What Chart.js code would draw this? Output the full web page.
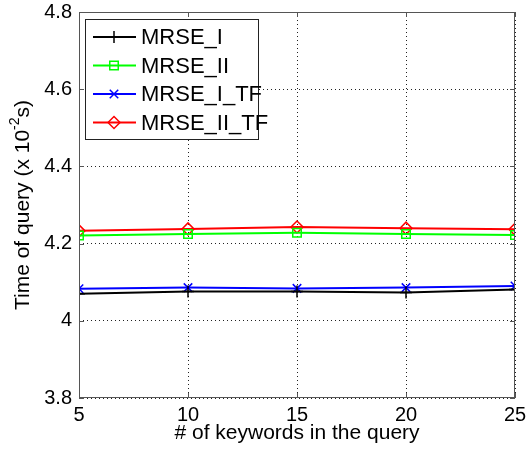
<!DOCTYPE html>
<html>
<head>
<meta charset="utf-8">
<script src="https://cdn.jsdelivr.net/npm/chart.js@4"></script>
<style>
  html, body { margin: 0; padding: 0; background: #fff; }
  #wrap { position: relative; width: 527px; height: 456px; }
</style>
</head>
<body>
<div id="wrap"><canvas id="chart" width="527" height="456"></canvas></div>
<script>
const keywords = [5, 10, 15, 20, 25]
const mrseI = [4.070, 4.076, 4.076, 4.073, 4.081]
const mrseII = [4.221, 4.225, 4.228, 4.225, 4.222]
const mrseITF = [4.083, 4.086, 4.084, 4.086, 4.090]
const mrseIITF = [4.233, 4.238, 4.243, 4.240, 4.237]
const yTicks = [3.8, 4, 4.2, 4.4, 4.6, 4.8]
const xTicks = [5, 10, 15, 20, 25]

const FONT = "Arial, 'Liberation Sans', sans-serif"

function series(label, values, color, style) {
  return {
    label,
    data: keywords.map((k, i) => ({ x: k, y: values[i] })),
    borderColor: color,
    backgroundColor: "transparent",
    borderWidth: 2,
    pointStyle: style,
    pointRadius: 6,
    pointBorderWidth: 1.5,
    pointBorderColor: color,
    pointBackgroundColor: "transparent",
    tension: 0,
  }
}

function noPad(s) {
  s.paddingTop = 0
  s.paddingBottom = 0
  s.paddingLeft = 0
  s.paddingRight = 0
}

// box, inward ticks, legend and y title (with superscript)
const matlabLook = {
  id: "matlabLook",
  afterDraw(chart) {
    const { ctx, chartArea: a, scales } = chart
    ctx.save()
    ctx.strokeStyle = "#555"
    ctx.lineWidth = 1
    ctx.strokeRect(a.left + 0.5, a.top + 0.5, a.right - a.left - 1, a.bottom - a.top - 1)
    ctx.beginPath()
    for (const v of xTicks) {
      const x = Math.round(scales.x.getPixelForValue(v)) + 0.5
      ctx.moveTo(x, a.bottom); ctx.lineTo(x, a.bottom - 5)
      ctx.moveTo(x, a.top); ctx.lineTo(x, a.top + 5)
    }
    for (const v of yTicks) {
      const y = Math.round(scales.y.getPixelForValue(v)) + 0.5
      ctx.moveTo(a.left, y); ctx.lineTo(a.left + 5, y)
      ctx.moveTo(a.right, y); ctx.lineTo(a.right - 5, y)
    }
    ctx.stroke()

    // legend
    const lx = a.left + 6, ly = a.top + 7, lw = 173, lh = 120
    ctx.fillStyle = "#fff"
    ctx.fillRect(lx, ly, lw, lh)
    ctx.strokeStyle = "#222"
    ctx.strokeRect(lx + 0.5, ly + 0.5, lw, lh)
    ctx.font = "22px " + FONT
    ctx.textBaseline = "middle"
    chart.data.datasets.forEach((ds, i) => {
      const cy = ly + 18 + i * 28.5
      ctx.strokeStyle = ds.borderColor
      ctx.lineWidth = 2
      ctx.beginPath()
      ctx.moveTo(lx + 8, cy); ctx.lineTo(lx + 51, cy)
      ctx.stroke()
      ctx.lineWidth = 1.5
      ctx.fillStyle = "rgba(0,0,0,0)"
      Chart.helpers.drawPoint(ctx, { pointStyle: ds.pointStyle, radius: 6, rotation: 0, borderWidth: 1.5 }, lx + 29, cy)
      ctx.fillStyle = "#000"
      ctx.fillText(ds.label, lx + 56, cy + 1)
    })

    // y title
    ctx.translate(23, (a.top + a.bottom) / 2)
    ctx.rotate(-Math.PI / 2)
    ctx.fillStyle = "#000"
    ctx.textBaseline = "middle"
    const p1 = "Time of query (x 10", sup = "-2", p2 = "s)"
    ctx.font = "21px " + FONT
    const w1 = ctx.measureText(p1).width, w2 = ctx.measureText(p2).width
    ctx.font = "14px " + FONT
    const ws = ctx.measureText(sup).width
    let x = -(w1 + ws + w2) / 2
    ctx.font = "21px " + FONT
    ctx.fillText(p1, x, 0); x += w1
    ctx.font = "14px " + FONT
    ctx.fillText(sup, x, -8); x += ws
    ctx.font = "21px " + FONT
    ctx.fillText(p2, x, 0)
    ctx.restore()
  },
}

new Chart(document.getElementById("chart"), {
  type: "line",
  data: {
    datasets: [
      series("MRSE_I", mrseI, "#000000", "cross"),
      series("MRSE_II", mrseII, "#00ff00", "rect"),
      series("MRSE_I_TF", mrseITF, "#0000ff", "crossRot"),
      series("MRSE_II_TF", mrseIITF, "#ff0000", "rectRot"),
    ],
  },
  options: {
    responsive: false,
    animation: false,
    layout: { padding: { top: 12, right: 12, left: 0, bottom: 0 } },
    plugins: { legend: { display: false }, tooltip: { enabled: false } },
    scales: {
      x: {
        type: "linear",
        min: 5,
        max: 25,
        afterBuildTicks: (s) => { s.ticks = xTicks.map((v) => ({ value: v })) },
        afterFit: (s) => { s.height = 58; noPad(s) },
        ticks: { color: "#000", font: { family: FONT, size: 20 }, padding: 5, maxRotation: 0 },
        grid: { color: "#222", lineWidth: 1, drawTicks: false },
        border: { display: false, dash: [1, 3] },
        title: { display: true, text: "# of keywords in the query", color: "#000", font: { family: FONT, size: 21 }, padding: { top: 0, bottom: 10 } },
      },
      y: {
        type: "linear",
        min: 3.8,
        max: 4.8,
        afterBuildTicks: (s) => { s.ticks = yTicks.map((v) => ({ value: v })) },
        afterFit: (s) => { s.width = 79; noPad(s) },
        ticks: { color: "#000", font: { family: FONT, size: 20 }, padding: 7, callback: (v) => String(Math.round(v * 10) / 10) },
        grid: { color: "#222", lineWidth: 1, drawTicks: false },
        border: { display: false, dash: [1, 3] },
      },
    },
  },
  plugins: [matlabLook],
})
</script>
</body>
</html>
